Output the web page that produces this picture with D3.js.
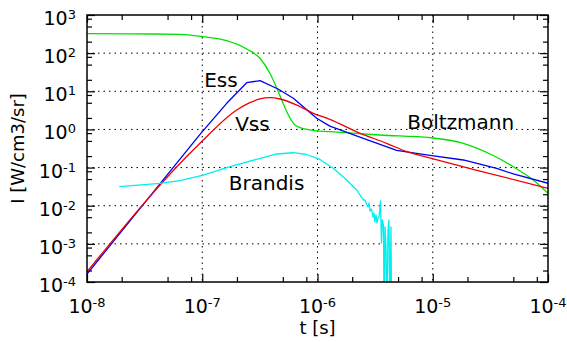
<!DOCTYPE html>
<html><head><meta charset="utf-8">
<script src="https://cdn.jsdelivr.net/npm/d3@7"></script>
<style>body{margin:0;background:#fff;} svg{display:block;font-family:"DejaVu Sans",sans-serif;}</style>
</head><body><svg id="c" width="567" height="342"></svg>
<script>
// ---- data ----
const xMajor = [1e-8, 1e-7, 1e-6, 1e-5, 1e-4];
const xMajorExp = ["-8", "-7", "-6", "-5", "-4"];
const yMajor = [1e-4, 1e-3, 1e-2, 1e-1, 1, 10, 100, 1000];
const yMajorExp = ["-4", "-3", "-2", "-1", "0", "1", "2", "3"];
const minorMantissa = [2, 5, 8];

const boltzmannT = [1e-8, 2.36e-8, 6.4e-8, 1.02e-7, 1.63e-7, 2.43e-7, 3.17e-7, 3.87e-7, 4.43e-7, 4.89e-7, 5.41e-7, 6.38e-7, 8.05e-7, 1.28e-6, 1.79e-6, 3.48e-6, 9.5e-6, 1.84e-5, 3.35e-5, 5.0e-5, 7.45e-5, 1.0e-4];
const boltzmannI = [324, 320, 312, 270, 212, 128.5, 73.3, 29.3, 12.2, 5.9, 2.9, 1.31, 1.01, 0.871, 0.82, 0.715, 0.607, 0.433, 0.207, 0.105, 0.0472, 0.0211];

const essT = [1e-8, 9.56e-8, 1.63e-7, 2.43e-7, 3.17e-7, 4.54e-7, 6.17e-7, 9.84e-7, 1.28e-6, 2.5e-6, 4.86e-6, 9.46e-6, 1.84e-5, 3.59e-5, 5.0e-5, 1.0e-4];
const essI = [1.62e-4, 0.745, 4.84, 16.8, 19.0, 11.5, 6.55, 1.96, 1.22, 0.585, 0.281, 0.21, 0.158, 0.0957, 0.0679, 0.0387];

const vssT = [1e-8, 9.56e-8, 1.99e-7, 2.59e-7, 3.17e-7, 3.87e-7, 4.73e-7, 6.61e-7, 9.2e-7, 1.28e-6, 2.34e-6, 3.98e-6, 5.94e-6, 1.01e-5, 2.37e-5, 1.0e-4];
const vssI = [1.86e-4, 0.433, 3.23, 5.02, 6.28, 6.79, 6.28, 4.36, 2.65, 1.84, 0.792, 0.433, 0.261, 0.17, 0.0863, 0.0286];

const brandisT = [1.905e-8, 4.3e-8, 6.41e-8, 1.02e-7, 1.74e-7, 2.97e-7, 4.43e-7, 6.17e-7, 8.05e-7, 1.05e-6, 1.37e-6, 1.79e-6, 2.19e-6, 2.5e-6,
  2.58e-6, 2.66e-6, 2.74e-6, 2.80e-6, 2.86e-6, 2.94e-6, 3.03e-6, 3.09e-6, 3.15e-6, 3.22e-6, 3.28e-6, 3.35e-6, 3.42e-6, 3.52e-6, 3.59e-6, 3.66e-6, 3.74e-6, 3.78e-6, 3.86e-6, 3.93e-6, 4.01e-6, 4.09e-6, 4.17e-6, 4.25e-6, 4.34e-6, 4.40e-6];
const brandisI = [0.0315, 0.0387, 0.0453, 0.0638, 0.1054, 0.165, 0.227, 0.245, 0.22, 0.163, 0.0957, 0.0472, 0.0258, 0.0141,
  0.0141, 0.0111, 0.00925, 0.0118, 0.00727, 0.0082, 0.00506, 0.00644, 0.00374, 0.00571, 0.00352, 0.00476, 0.00506, 0.0133, 0.00105, 0.00422, 0.00294, 1e-5, 0.00277, 0.000828, 1e-5, 0.00231, 0.00422, 1e-5, 0.00277, 1e-5];

const seriesNames = ["Boltzmann", "Ess", "Vss", "Brandis"];
const seriesColors = ["#00e000", "#0000ee", "#ee0000", "#00eeee"];
// annotation anchors in data coords
const labelT = [6.0e-6, 1.04e-7, 1.93e-7, 1.70e-7];
const labelI = [1.0, 12.9, 0.927, 0.0258];

// ---- layout ----
const W = 567, H = 342;
const L = 87, R = 548, T = 15, B = 282;
const svg = d3.select("#c");
const x = d3.scaleLog().domain([1e-8, 1e-4]).range([L, R]);
const y = d3.scaleLog().domain([1e-4, 1e3]).range([B, T]);

const minor = (majors) => {
  const out = [];
  for (let i = 0; i < majors.length - 1; i++) for (const m of minorMantissa) out.push(m * majors[i]);
  return out;
};
const xMinor = minor(xMajor), yMinor = minor(yMajor);

// grid
const grid = svg.append("g").attr("stroke", "#000").attr("stroke-width", 1).attr("stroke-dasharray", "1.5,4");
grid.selectAll(".gx").data(xMajor.slice(1, -1)).join("line")
  .attr("x1", d => x(d)).attr("x2", d => x(d)).attr("y1", T).attr("y2", B);
grid.selectAll(".gy").data(yMajor.slice(1, -1)).join("line")
  .attr("y1", d => y(d)).attr("y2", d => y(d)).attr("x1", L).attr("x2", R);

// ticks with d3 axes (inward)
function ax(gen, scale, vals, size, tr) {
  const g = svg.append("g").attr("transform", tr)
    .call(gen(scale).tickValues(vals).tickSize(size).tickFormat(""));
  g.select(".domain").remove();
  g.selectAll(".tick line").attr("stroke", "#000").attr("stroke-width", 1.2);
  return g;
}
ax(d3.axisBottom, x, xMajor, -8, `translate(0,${B})`);
ax(d3.axisBottom, x, xMinor, -5, `translate(0,${B})`);
ax(d3.axisTop, x, xMajor, -8, `translate(0,${T})`);
ax(d3.axisTop, x, xMinor, -5, `translate(0,${T})`);
ax(d3.axisLeft, y, yMajor, -8, `translate(${L},0)`);
ax(d3.axisLeft, y, yMinor, -5, `translate(${L},0)`);
ax(d3.axisRight, y, yMajor, -8, `translate(${R},0)`);
ax(d3.axisRight, y, yMinor, -5, `translate(${R},0)`);

// curves
const defs = svg.append("defs");
defs.append("clipPath").attr("id", "clip").append("rect").attr("x", L).attr("y", T).attr("width", R - L).attr("height", B - T);
const lineSmooth = d3.line().x(d => x(d[0])).y(d => y(d[1])).curve(d3.curveMonotoneX);
const lineStraight = d3.line().x(d => x(d[0])).y(d => y(d[1]));
const seriesData = [
  d3.zip(boltzmannT, boltzmannI),
  d3.zip(essT, essI),
  d3.zip(vssT, vssI),
  d3.zip(brandisT, brandisI)
];
const seriesLine = [lineSmooth, lineStraight, lineSmooth, lineStraight];
const curves = svg.append("g").attr("clip-path", "url(#clip)");
seriesData.forEach((d, i) => {
  curves.append("path").attr("d", seriesLine[i](d)).attr("fill", "none")
    .attr("stroke", seriesColors[i]).attr("stroke-width", 1.3).attr("stroke-linejoin", "round");
});

// frame
svg.append("rect").attr("x", L).attr("y", T).attr("width", R - L).attr("height", B - T)
  .attr("fill", "none").attr("stroke", "#000").attr("stroke-width", 1.5);

// tick labels
const xl = svg.append("g").attr("font-size", 19).attr("fill", "#000").attr("text-anchor", "middle");
xMajor.forEach((v, i) => {
  const t = xl.append("text").attr("x", x(v)).attr("y", 313);
  t.append("tspan").text("10");
  t.append("tspan").attr("dy", -6).attr("font-size", 13).text(xMajorExp[i]);
});
const yl = svg.append("g").attr("font-size", 19).attr("fill", "#000").attr("text-anchor", "end");
yMajor.forEach((v, i) => {
  const t = yl.append("text").attr("x", 76).attr("y", y(v) + 10);
  t.append("tspan").text("10");
  t.append("tspan").attr("dy", -6).attr("font-size", 13).text(yMajorExp[i]);
});

// axis titles
svg.append("text").attr("x", (L + R) / 2).attr("y", 334).attr("text-anchor", "middle")
  .attr("font-size", 18).text("t [s]");
svg.append("text").attr("transform", `translate(24,${(T + B) / 2}) rotate(-90)`).attr("text-anchor", "middle")
  .attr("font-size", 18).text("I [W/cm3/sr]");

// annotations
seriesNames.forEach((n, i) => {
  svg.append("text").attr("x", x(labelT[i])).attr("y", y(labelI[i])).attr("font-size", 20).text(n);
});
</script></body></html>
